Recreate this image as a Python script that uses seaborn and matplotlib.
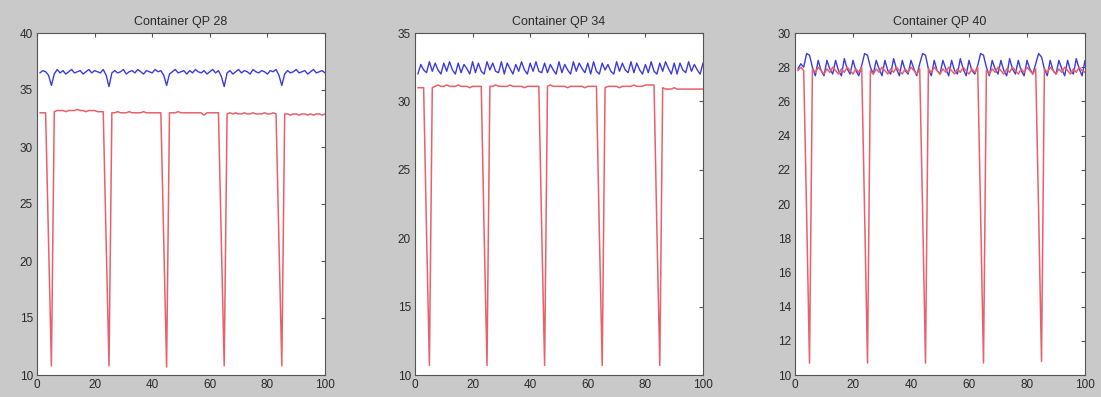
import numpy as np
import pandas as pd
import matplotlib
matplotlib.use("Agg")
import matplotlib.pyplot as plt
import seaborn as sns

# ---------------- data ----------------
frames = list(range(1, 101))
titles = ["Container QP 28", "Container QP 34", "Container QP 40"]

qp28_blue = [
    36.5, 36.7, 36.6, 36.3, 35.4,
    36.4, 36.8, 36.5, 36.7, 36.4, 36.6, 36.8, 36.5, 36.6, 36.7, 36.4, 36.6, 36.8, 36.5, 36.7, 36.6, 36.5, 36.8, 36.3, 35.3,
    36.5, 36.7, 36.5, 36.6, 36.8, 36.4, 36.6, 36.7, 36.5, 36.8, 36.6, 36.4, 36.7, 36.6, 36.5, 36.8, 36.6, 36.7, 36.3, 35.4,
    36.4, 36.6, 36.8, 36.5, 36.6, 36.7, 36.4, 36.7, 36.5, 36.8, 36.6, 36.5, 36.7, 36.4, 36.6, 36.8, 36.5, 36.7, 36.2, 35.3,
    36.5, 36.7, 36.4, 36.6, 36.8, 36.5, 36.7, 36.6, 36.4, 36.8, 36.6, 36.5, 36.7, 36.6, 36.4, 36.7, 36.6, 36.8, 36.3, 35.4,
    36.4, 36.7, 36.5, 36.6, 36.8, 36.5, 36.6, 36.7, 36.4, 36.6, 36.8, 36.5, 36.6, 36.7, 36.5,
]
qp28_red = [
    33.0, 33.0, 33.0, 21.8, 10.8,
    33.1, 33.2, 33.2, 33.2, 33.1, 33.2, 33.2, 33.2, 33.3, 33.2, 33.2, 33.1, 33.2, 33.2, 33.2, 33.1, 33.1, 33.1, 21.8, 10.8,
    33.0, 33.0, 33.1, 33.0, 33.0, 33.0, 33.1, 33.0, 33.0, 33.0, 33.0, 33.1, 33.0, 33.0, 33.0, 33.0, 33.0, 33.0, 21.9, 10.7,
    33.0, 33.0, 33.0, 33.1, 33.0, 33.0, 33.0, 33.0, 33.0, 33.0, 33.0, 33.0, 32.8, 33.0, 33.0, 33.0, 33.0, 33.0, 21.8, 10.8,
    32.9, 33.0, 32.9, 33.0, 32.9, 32.9, 33.0, 32.9, 32.9, 33.0, 32.9, 32.9, 32.9, 33.0, 32.9, 32.9, 33.0, 32.9, 21.8, 10.8,
    32.9, 32.9, 32.8, 32.9, 32.9, 32.8, 32.9, 32.9, 32.8, 32.9, 32.8, 32.9, 32.9, 32.8, 32.9,
]
qp34_blue = [
    32.0, 32.7, 32.3, 32.1, 32.9, 32.2, 32.8, 32.3, 32.0, 32.8,
    32.2, 32.9, 32.3, 32.0, 32.8, 32.1, 32.7, 32.4, 32.0, 32.9,
    32.1, 32.8, 32.2, 32.0, 32.9, 32.3, 32.8, 32.2, 32.1, 32.9,
    32.0, 32.8, 32.4, 32.0, 32.7, 32.2, 32.9, 32.3, 32.0, 32.8,
    32.2, 32.9, 32.2, 32.1, 32.8, 32.1, 32.7, 32.3, 32.0, 32.9,
    32.1, 32.7, 32.3, 32.0, 32.9, 32.2, 32.8, 32.4, 32.1, 32.8,
    32.0, 32.9, 32.2, 32.0, 32.8, 32.3, 32.7, 32.2, 32.0, 32.9,
    32.2, 32.8, 32.3, 32.1, 32.9, 32.1, 32.8, 32.3, 32.0, 32.7,
    32.1, 32.9, 32.2, 32.0, 32.8, 32.2, 32.9, 32.4, 32.0, 32.8,
    32.0, 32.8, 32.3, 32.1, 32.9, 32.2, 32.7, 32.3, 32.0, 32.8,
]
qp34_red = [
    31.0, 31.0, 31.0, 20.5, 10.7,
    31.0, 31.1, 31.2, 31.1, 31.1, 31.2, 31.1, 31.1, 31.1, 31.2, 31.1, 31.1, 31.1, 31.0, 31.1, 31.1, 31.1, 31.1, 20.5, 10.7,
    31.1, 31.1, 31.2, 31.1, 31.1, 31.1, 31.1, 31.2, 31.1, 31.1, 31.1, 31.1, 31.0, 31.1, 31.1, 31.1, 31.1, 31.1, 20.6, 10.7,
    31.1, 31.2, 31.1, 31.1, 31.1, 31.1, 31.1, 31.0, 31.1, 31.1, 31.1, 31.1, 31.1, 31.0, 31.1, 31.1, 31.1, 31.1, 20.5, 10.7,
    31.0, 31.1, 31.1, 31.1, 31.1, 31.0, 31.1, 31.1, 31.1, 31.1, 31.2, 31.1, 31.1, 31.1, 31.2, 31.2, 31.2, 31.2, 20.5, 10.7,
    31.0, 30.9, 30.9, 30.9, 31.0, 30.9, 30.9, 30.9, 30.9, 30.9, 30.9, 30.9, 30.9, 30.9, 30.9,
]
qp40_blue = [
    27.9, 28.2, 28.0, 28.8, 28.7,
    28.0, 27.5, 28.4, 27.8, 27.5, 28.4, 27.9, 27.6, 28.4, 27.8, 27.5, 28.5, 27.9, 27.6, 28.4, 27.8, 27.5, 28.1, 28.8, 28.7,
    28.0, 27.6, 28.4, 27.9, 27.5, 28.4, 27.8, 27.6, 28.5, 27.9, 27.5, 28.4, 27.8, 27.6, 28.4, 27.9, 27.5, 28.2, 28.8, 28.7,
    27.9, 27.5, 28.4, 27.8, 27.6, 28.4, 27.9, 27.5, 28.4, 27.8, 27.6, 28.5, 27.9, 27.5, 28.4, 27.8, 27.6, 28.1, 28.8, 28.7,
    28.0, 27.5, 28.4, 27.9, 27.6, 28.4, 27.8, 27.5, 28.5, 27.9, 27.6, 28.4, 27.8, 27.5, 28.4, 27.9, 27.6, 28.2, 28.8, 28.6,
    27.9, 27.5, 28.4, 27.8, 27.6, 28.4, 27.9, 27.5, 28.4, 27.8, 27.6, 28.5, 27.9, 27.5, 28.4,
]
qp40_red = [
    27.8, 28.0, 27.8, 19.5, 10.7,
    27.9, 27.7, 28.0, 27.8, 27.6, 27.9, 27.7, 28.0, 27.8, 27.6, 27.9, 27.7, 28.0, 27.8, 27.6, 27.9, 27.7, 28.0, 19.5, 10.7,
    27.8, 27.6, 27.9, 27.7, 28.0, 27.8, 27.6, 27.9, 27.7, 28.0, 27.8, 27.6, 27.9, 27.7, 28.0, 27.8, 27.6, 27.9, 19.6, 10.7,
    27.9, 27.7, 28.0, 27.8, 27.6, 27.9, 27.7, 28.0, 27.8, 27.6, 27.9, 27.7, 28.0, 27.8, 27.6, 27.9, 27.7, 28.0, 19.5, 10.7,
    27.8, 27.6, 27.9, 27.7, 28.0, 27.8, 27.6, 27.9, 27.7, 28.0, 27.8, 27.6, 27.9, 27.7, 28.0, 27.8, 27.6, 27.9, 19.6, 10.8,
    27.9, 27.7, 28.0, 27.8, 27.6, 27.9, 27.7, 28.0, 27.8, 27.6, 27.9, 27.7, 28.0, 27.8, 27.7,
]

y_limits = [(10, 40), (10, 35), (10, 30)]
y_ticks = [list(range(10, 41, 5)), list(range(10, 36, 5)), list(range(10, 31, 2))]
x_ticks = [0, 20, 40, 60, 80, 100]

series = [(qp28_blue, qp28_red), (qp34_blue, qp34_red), (qp40_blue, qp40_red)]

# ---------------- style ----------------
sns.set_style("white")
plt.rcParams["font.family"] = ["Liberation Sans", "DejaVu Sans"]

BG = "#c9c9c9"
BLUE = "#3b3be0"
RED = "#e8606c"
TXT = "#2a2a2a"

fig = plt.figure(figsize=(11.01, 3.97), dpi=100, facecolor=BG)
W, H = 1101.0, 397.0
boxes = [(37, 325), (415, 703), (795, 1085)]
top_px, bot_px = 33, 375

for i, ((xl, xr), (blue, red)) in enumerate(zip(boxes, series)):
    ax = fig.add_axes([xl / W, 1 - bot_px / H, (xr - xl) / W, (bot_px - top_px) / H])
    ax.set_facecolor("white")
    df = pd.DataFrame({"frame": frames, "blue": blue, "red": red})
    sns.lineplot(data=df, x="frame", y="blue", ax=ax, color=BLUE, linewidth=1.0)
    sns.lineplot(data=df, x="frame", y="red", ax=ax, color=RED, linewidth=1.1)
    ax.set_xlim(0, 100)
    ax.set_ylim(*y_limits[i])
    ax.set_xticks(x_ticks)
    ax.set_yticks(y_ticks[i])
    ax.set_xlabel("")
    ax.set_ylabel("")
    ax.set_title(titles[i], fontsize=9, color=TXT, pad=6)
    ax.tick_params(direction="in", length=3, width=0.8, top=True, right=True,
                   labelsize=8.5, colors="#555555", labelcolor=TXT, pad=3)
    for s in ax.spines.values():
        s.set_color("#555555")
        s.set_linewidth(0.8)

fig.savefig("out.png", dpi=100, facecolor=BG)
